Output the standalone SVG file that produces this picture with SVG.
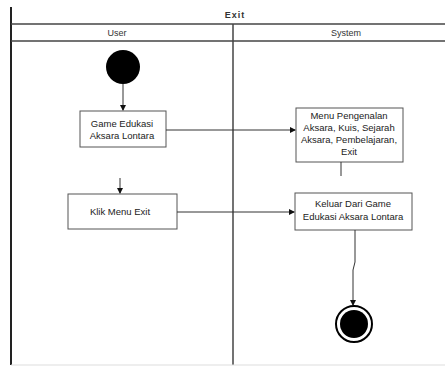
<svg xmlns="http://www.w3.org/2000/svg" width="445" height="369" viewBox="0 0 445 369">
<style>
.t{font-family:"Liberation Sans",Arial,sans-serif;font-size:9.5px;fill:#222;text-anchor:middle}
.h{font-family:"Liberation Sans",Arial,sans-serif;font-size:9px;fill:#333;text-anchor:middle}
.ln{stroke:#333;stroke-width:1;fill:none}
.box{fill:#fff;stroke:#555;stroke-width:1}
</style>
<defs>
<marker id="ah" markerWidth="6" markerHeight="6" refX="5" refY="3" orient="auto" markerUnits="userSpaceOnUse">
<path d="M0,0 L6,3 L0,6 z" fill="#111"/>
</marker>
</defs>
<rect width="445" height="369" fill="#fff"/>
<g id="frame">
<line x1="11" y1="7" x2="11" y2="365" stroke="#222" stroke-width="2"/>
<line x1="11" y1="24" x2="445" y2="24" stroke="#444" stroke-width="1.5"/>
<line x1="11" y1="41" x2="445" y2="41" stroke="#444" stroke-width="1.5"/>
<line x1="233" y1="24" x2="233" y2="365" stroke="#444" stroke-width="1.5"/>
<line x1="11" y1="365" x2="445" y2="365" stroke="#ddd" stroke-width="1"/>
<text class="h" x="235" y="18" font-size="10" font-weight="bold" letter-spacing="1">Exit</text>
<text class="h" x="117" y="36">User</text>
<text class="h" x="346" y="36">System</text>
</g>
<g id="start"><circle cx="123" cy="67" r="17" fill="#000"/></g>
<g id="n1">
<rect class="box" x="80" y="111" width="86" height="36" stroke="#999"/>
<text class="t" x="122" y="127">Game Edukasi</text>
<text class="t" x="122" y="139">Aksara Lontara</text>
</g>
<g id="n2">
<rect class="box" x="296" y="108" width="107" height="54"/>
<text class="t" x="349" y="119">Menu Pengenalan</text>
<text class="t" x="349" y="131">Aksara, Kuis, Sejarah</text>
<text class="t" x="349" y="143">Aksara, Pembelajaran,</text>
<text class="t" x="349" y="155">Exit</text>
</g>
<g id="n3">
<rect class="box" x="68" y="194" width="109" height="35"/>
<text class="t" x="120" y="215">Klik Menu Exit</text>
</g>
<g id="n4">
<rect class="box" x="295" y="193" width="117" height="37"/>
<text class="t" x="353" y="207">Keluar Dari Game</text>
<text class="t" x="353" y="220">Edukasi Aksara Lontara</text>
</g>
<g id="end">
<circle cx="354" cy="324" r="18" fill="#fff" stroke="#000" stroke-width="2"/>
<circle cx="354" cy="324" r="14" fill="#000"/>
</g>
<g id="connectors">
<line class="ln" x1="123" y1="84" x2="123" y2="110" marker-end="url(#ah)"/>
<line class="ln" x1="166" y1="130" x2="295" y2="130" marker-end="url(#ah)"/>
<line class="ln" x1="341" y1="162" x2="341" y2="176"/>
<line class="ln" x1="120" y1="178" x2="120" y2="193" marker-end="url(#ah)"/>
<line class="ln" x1="177" y1="212" x2="294" y2="212" marker-end="url(#ah)"/>
<polyline class="ln" points="355,230 355,262 353,270 353,305" marker-end="url(#ah)"/>
</g>
</svg>
